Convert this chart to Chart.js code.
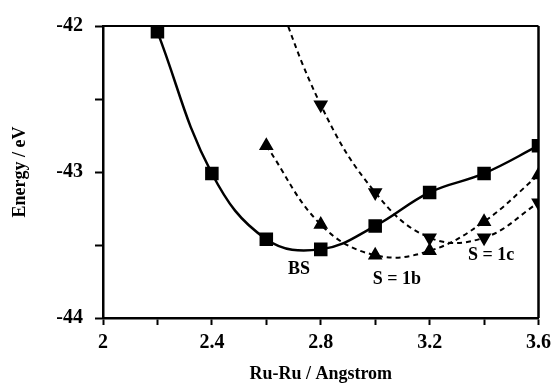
<!DOCTYPE html>
<html>
<head>
<meta charset="utf-8">
<script src="https://cdn.jsdelivr.net/npm/chart.js@4/dist/chart.umd.min.js"></script>
<style>
html,body{margin:0;padding:0;background:#fff;}
#wrap{width:557px;height:385px;position:relative;}
</style>
</head>
<body>
<div id="wrap"><canvas id="c" width="557" height="385"></canvas></div>
<script>
// ---- data ----
const bsX   = [2.2, 2.4, 2.6, 2.8, 3.0, 3.2, 3.4, 3.6];
const bsY   = [-42.04, -43.01, -43.46, -43.53, -43.37, -43.14, -43.01, -42.82];
const s1bX  = [2.6, 2.8, 3.0, 3.2, 3.4, 3.6];
const s1bY  = [-42.82, -43.36, -43.57, -43.54, -43.34, -43.02];
const s1cX  = [2.6, 2.8, 3.0, 3.2, 3.4, 3.6];
const s1cY  = [-41.60, -42.54, -43.14, -43.45, -43.45, -43.21];
const xTickLabels = ['2', '2.4', '2.8', '3.2', '3.6'];
const yTickLabels = ['-44', '-43', '-42'];
const seriesNames = ['BS', 'S = 1b', 'S = 1c'];

const pts = (xs, ys) => xs.map((x, i) => ({x: x, y: ys[i]}));
const FONT = '"Liberation Serif", "Times New Roman", serif';

function lookupLabel(list, v) {
  const f = list.find(l => Math.abs(parseFloat(l) - v) < 1e-6);
  return f === undefined ? '' : f;
}

const labelPlugin = {
  id: 'seriesLabels',
  afterDatasetsDraw(chart, args, opts) {
    const ctx = chart.ctx, xs = chart.scales.x, ys = chart.scales.y;
    ctx.save();
    ctx.fillStyle = '#000';
    ctx.font = 'bold 18px ' + FONT;
    ctx.textAlign = 'center';
    ctx.textBaseline = 'middle';
    opts.items.forEach(it => {
      ctx.fillText(it.text, xs.getPixelForValue(it.x), ys.getPixelForValue(it.y));
    });
    ctx.restore();
  }
};

const boxPlugin = {
  id: 'box',
  afterDraw(chart) {
    const a = chart.chartArea, ctx = chart.ctx;
    ctx.save();
    ctx.strokeStyle = '#000';
    ctx.lineWidth = 2;
    ctx.beginPath();
    ctx.moveTo(a.left, a.top);
    ctx.lineTo(a.right, a.top);
    ctx.stroke();
    ctx.lineWidth = 2.5;
    ctx.beginPath();
    ctx.moveTo(a.right, a.top);
    ctx.lineTo(a.right, a.bottom);
    ctx.stroke();
    ctx.restore();
  }
};

new Chart(document.getElementById('c'), {
  type: 'line',
  data: {
    datasets: [
      {
        label: seriesNames[0], data: pts(bsX, bsY),
        borderColor: '#000', backgroundColor: '#000', borderWidth: 2.5,
        pointStyle: 'rect', pointRadius: 7.8, tension: 0.4
      },
      {
        label: seriesNames[1], data: pts(s1bX, s1bY),
        borderColor: '#000', backgroundColor: '#000', borderWidth: 2,
        borderDash: [5, 4],
        pointStyle: 'triangle', pointRadius: 6.5, tension: 0.4
      },
      {
        label: seriesNames[2], data: pts(s1cX, s1cY),
        borderColor: '#000', backgroundColor: '#000', borderWidth: 2,
        borderDash: [5, 4],
        pointStyle: 'triangle', pointRotation: 180, pointRadius: 6.5, tension: 0.4
      }
    ]
  },
  options: {
    responsive: false,
    animation: false,
    devicePixelRatio: 1,
    layout: { padding: { top: 26, right: 17, left: 0, bottom: 0 } },
    elements: { line: { capBezierPoints: false }, point: { borderWidth: 0 } },
    plugins: {
      legend: { display: false },
      tooltip: { enabled: false },
      seriesLabels: {
        items: [
          { text: seriesNames[0], x: 2.72, y: -43.668 },
          { text: seriesNames[1], x: 3.08, y: -43.733 },
          { text: seriesNames[2], x: 3.426, y: -43.568 }
        ]
      }
    },
    scales: {
      x: {
        type: 'linear', min: 2, max: 3.6,
        afterFit(s) { s.height = 67; },
        border: { display: true, color: '#000', width: 2.5 },
        grid: { display: true, drawOnChartArea: false, drawTicks: true, tickLength: 7, tickWidth: 2, tickColor: '#000' },
        ticks: {
          stepSize: 0.2, autoSkip: false, maxRotation: 0, padding: 6,
          color: '#000', font: { family: FONT, size: 20, weight: 'bold' },
          callback: v => lookupLabel(xTickLabels, v)
        },
        title: {
          display: true, text: 'Ru-Ru / Angstrom', color: '#000',
          font: { family: FONT, size: 18, weight: 'bold' }, padding: { top: 7, bottom: 0 }
        }
      },
      y: {
        type: 'linear', min: -44, max: -42,
        afterFit(s) { s.width = 103; },
        border: { display: true, color: '#000', width: 2.5 },
        grid: { display: true, drawOnChartArea: false, drawTicks: true, tickLength: 8, tickWidth: 2, tickColor: '#000' },
        ticks: {
          stepSize: 0.5, autoSkip: false, padding: 12,
          color: '#000', font: { family: FONT, size: 20, weight: 'bold' },
          callback: v => lookupLabel(yTickLabels, v)
        },
        title: {
          display: true, text: 'Energy / eV', color: '#000',
          font: { family: FONT, size: 18, weight: 'bold' }, padding: { top: 10, bottom: 0 }
        }
      }
    }
  },
  plugins: [labelPlugin, boxPlugin]
});
</script>
</body>
</html>
